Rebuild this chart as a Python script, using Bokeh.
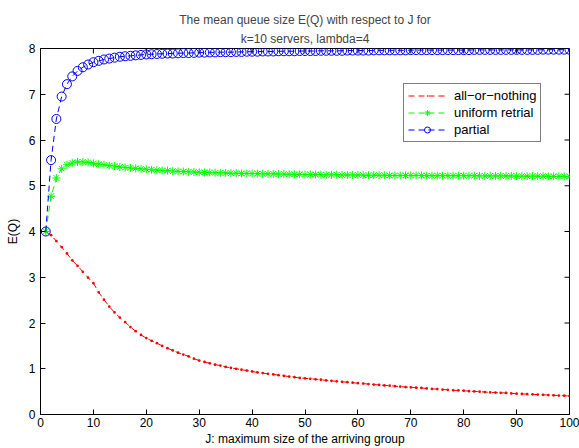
from bokeh.plotting import figure
from bokeh.models import (Legend, LegendItem, Range1d, Title, FixedTicker)
from bokeh.embed import file_html
from bokeh.resources import INLINE

J = list(range(1, 101))

partial = [
    4.00, 5.56, 6.46, 6.95, 7.22, 7.39, 7.51, 7.59, 7.65, 7.70,
    7.73, 7.76, 7.78, 7.80, 7.82, 7.83, 7.84, 7.85, 7.86, 7.87,
    7.875, 7.88, 7.885, 7.89, 7.89, 7.895, 7.90, 7.90, 7.905, 7.91,
    7.91, 7.915, 7.915, 7.92, 7.92, 7.92, 7.925, 7.925, 7.93, 7.93,
    7.93, 7.935, 7.935, 7.935, 7.94, 7.94, 7.94, 7.94, 7.945, 7.945,
    7.945, 7.945, 7.95, 7.95, 7.95, 7.95, 7.95, 7.955, 7.955, 7.955,
    7.955, 7.955, 7.96, 7.96, 7.96, 7.96, 7.96, 7.96, 7.96, 7.965,
    7.965, 7.965, 7.965, 7.965, 7.965, 7.965, 7.965, 7.965, 7.965, 7.965,
    7.965, 7.97, 7.97, 7.97, 7.97, 7.97, 7.97, 7.97, 7.97, 7.97,
    7.97, 7.97, 7.97, 7.97, 7.975, 7.975, 7.975, 7.975, 7.975, 7.975,
]

uniform = [
    4.00, 4.77, 5.17, 5.37, 5.46, 5.50, 5.52, 5.52, 5.51, 5.49,
    5.47, 5.46, 5.44, 5.43, 5.41, 5.40, 5.39, 5.38, 5.37, 5.36,
    5.35, 5.34, 5.335, 5.33, 5.32, 5.315, 5.31, 5.305, 5.30, 5.295,
    5.29, 5.29, 5.285, 5.28, 5.28, 5.275, 5.275, 5.27, 5.27, 5.265,
    5.265, 5.26, 5.26, 5.26, 5.255, 5.255, 5.25, 5.25, 5.25, 5.245,
    5.245, 5.245, 5.24, 5.24, 5.24, 5.24, 5.235, 5.235, 5.235, 5.235,
    5.23, 5.23, 5.23, 5.23, 5.23, 5.225, 5.225, 5.225, 5.225, 5.225,
    5.225, 5.225, 5.22, 5.22, 5.22, 5.22, 5.22, 5.22, 5.22, 5.22,
    5.22, 5.22, 5.215, 5.215, 5.215, 5.215, 5.215, 5.215, 5.215, 5.21,
    5.21, 5.21, 5.21, 5.21, 5.21, 5.205, 5.205, 5.205, 5.205, 5.20,
]

all_or_nothing = [
    4.00, 3.92, 3.79, 3.66, 3.52, 3.37, 3.25, 3.12, 2.99, 2.87,
    2.67, 2.51, 2.36, 2.23, 2.12, 2.02, 1.91, 1.82, 1.74, 1.67,
    1.61, 1.56, 1.50, 1.45, 1.40, 1.35, 1.31, 1.27, 1.22, 1.18,
    1.15, 1.12, 1.09, 1.07, 1.04, 1.02, 1.00, 0.98, 0.96, 0.94,
    0.92, 0.905, 0.89, 0.875, 0.86, 0.845, 0.83, 0.815, 0.80, 0.79,
    0.78, 0.77, 0.76, 0.745, 0.735, 0.725, 0.715, 0.705, 0.695, 0.685,
    0.675, 0.665, 0.655, 0.645, 0.635, 0.63, 0.62, 0.61, 0.60, 0.595,
    0.585, 0.58, 0.57, 0.56, 0.555, 0.545, 0.54, 0.53, 0.525, 0.52,
    0.51, 0.505, 0.50, 0.49, 0.485, 0.48, 0.475, 0.47, 0.46, 0.455,
    0.45, 0.445, 0.44, 0.435, 0.43, 0.425, 0.42, 0.415, 0.41, 0.405,
]

x_ticks = [0, 10, 20, 30, 40, 50, 60, 70, 80, 90, 100]
y_ticks = [0, 1, 2, 3, 4, 5, 6, 7, 8]

title_lines = ["The mean queue size E(Q) with respect to J for",
               "k=10 servers, lambda=4"]
series_labels = ["all\u2212or\u2212nothing", "uniform retrial", "partial"]

FONT = "Liberation Sans"
FS = "12px"

p = figure(width=579, height=448, output_backend="svg", toolbar_location=None,
           x_range=Range1d(0, 100), y_range=Range1d(0, 8),
           min_border_left=40, min_border_right=10,
           min_border_top=48, min_border_bottom=32)
p.grid.visible = False
p.outline_line_color = "black"
p.outline_line_width = 1
p.background_fill_color = "white"
p.border_fill_color = "white"

# two-line title: the Title added later sits nearer the plot
p.title.text = title_lines[0]
p.title.align = "center"
p.title.text_font = FONT
p.title.text_font_size = FS
p.title.text_font_style = "normal"
p.title.standoff = 0
p.add_layout(Title(text=title_lines[1], align="center", text_font=FONT,
                   text_font_size=FS, text_font_style="normal", standoff=6), "above")

for ax in p.xaxis + p.yaxis:
    ax.major_tick_in = 5
    ax.major_tick_out = 0
    ax.minor_tick_in = 0
    ax.minor_tick_out = 0
    ax.axis_line_color = "black"
    ax.major_tick_line_color = "black"
    ax.major_label_text_font = FONT
    ax.major_label_text_font_size = FS
    ax.major_label_text_color = "black"
    ax.axis_label_text_font = FONT
    ax.axis_label_text_font_size = FS
    ax.axis_label_text_font_style = "normal"
    ax.axis_label_text_color = "black"

p.xaxis.ticker = FixedTicker(ticks=x_ticks)
p.yaxis.ticker = FixedTicker(ticks=y_ticks)
p.xaxis.axis_label = "J: maximum size of the arriving group"
p.yaxis.axis_label = "E(Q)"
p.xaxis.major_label_standoff = 3
p.xaxis.axis_label_standoff = 2
p.yaxis.major_label_standoff = 5
p.yaxis.axis_label_standoff = 6

# inward ticks on the top and right edges of the box
tick_dy = 5 * 8 / 368.0
tick_dx = 5 * 100 / 529.0
p.segment(x0=x_ticks, y0=[8] * len(x_ticks), x1=x_ticks,
          y1=[8 - tick_dy] * len(x_ticks), line_color="black", line_width=1)
p.segment(x0=[100] * len(y_ticks), y0=y_ticks, x1=[100 - tick_dx] * len(y_ticks),
          y1=y_ticks, line_color="black", line_width=1)

dash = "6 4"
r_line = p.line(J, all_or_nothing, line_color="#FF0000", line_width=1, line_dash=dash)
r_mk = p.scatter(J, all_or_nothing, marker="dot", size=11, line_color="#FF0000",
                 fill_color="#FF0000")
g_line = p.line(J, uniform, line_color="#00FF00", line_width=1, line_dash=dash)
g_mk = p.scatter(J, uniform, marker="asterisk", size=8, line_color="#00FF00", line_width=1)
b_line = p.line(J, partial, line_color="#0000FF", line_width=1, line_dash=dash)
b_mk = p.scatter(J, partial, marker="circle", size=9, line_color="#0000FF",
                 fill_color=None, line_width=1)

legend = Legend(items=[
    LegendItem(label=series_labels[0], renderers=[r_line, r_mk]),
    LegendItem(label=series_labels[1], renderers=[g_line, g_mk]),
    LegendItem(label=series_labels[2], renderers=[b_line, b_mk]),
], location=(363, 272))
legend.label_text_font = FONT
legend.label_text_font_size = "13px"
legend.label_text_color = "black"
legend.glyph_width = 38
legend.glyph_height = 15
legend.label_height = 15
legend.label_standoff = 8
legend.spacing = 2
legend.padding = 4
legend.margin = 0
legend.border_line_color = "black"
legend.border_line_width = 1
legend.background_fill_color = "white"
legend.background_fill_alpha = 1
p.add_layout(legend, "center")

open("out.html", "w").write(file_html(p, INLINE))
